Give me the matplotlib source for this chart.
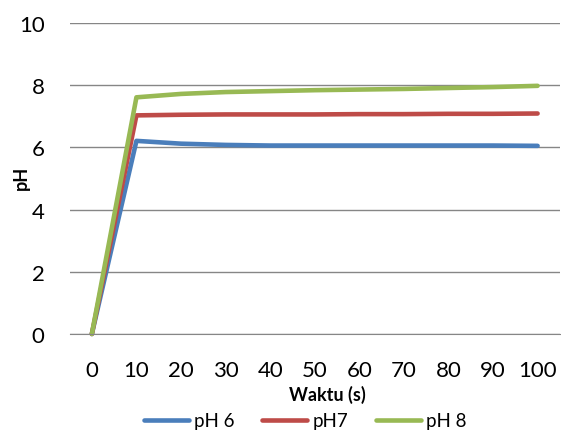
import matplotlib
matplotlib.use("Agg")
import matplotlib.pyplot as plt

plt.rcParams['font.family'] = ['Lato', 'DejaVu Sans']

waktu = [0, 10, 20, 30, 40, 50, 60, 70, 80, 90, 100]
ph6 = [0, 6.21, 6.12, 6.08, 6.06, 6.06, 6.06, 6.06, 6.06, 6.06, 6.05]
ph7 = [0, 7.03, 7.05, 7.06, 7.06, 7.06, 7.07, 7.07, 7.08, 7.08, 7.09]
ph8 = [0, 7.61, 7.72, 7.78, 7.81, 7.84, 7.86, 7.88, 7.91, 7.94, 7.98]
labels = ['pH 6', 'pH7', 'pH 8']
colors = ['#4a7ebb', '#be4b48', '#98b954']

fig = plt.figure(figsize=(5.61, 4.35), dpi=100)
ax = fig.add_axes([0.124, 0.2299, 0.874, 0.7149])

for ys, lab, c in zip([ph6, ph7, ph8], labels, colors):
    ax.plot(waktu, ys, color=c, lw=3.3, label=lab, solid_capstyle='round',
            solid_joinstyle='round', clip_on=False)

ax.set_xlim(-5, 105)
ax.set_ylim(0, 10)
ax.set_xticks(waktu)
ax.set_yticks([0, 2, 4, 6, 8, 10])
ax.grid(axis='y', color='#868686', lw=1)
ax.set_axisbelow(True)
for s in ['top', 'right', 'left']:
    ax.spines[s].set_visible(False)
ax.spines['bottom'].set_color('#868686')
ax.tick_params(length=0, labelsize=16, colors='black')
ax.tick_params(axis='x', pad=19)
ax.tick_params(axis='y', pad=18)

fig.text(327 / 561, 1 - 395 / 435, 'Waktu (s)', fontsize=13, fontweight='bold',
         ha='center', va='center')
fig.text(21 / 561, 1 - 178 / 435, 'pH', fontsize=13, fontweight='bold',
         ha='center', va='center', rotation=90)

fig.legend(loc='center', bbox_to_anchor=(0.544, 1 - 422 / 435), ncol=3, frameon=False,
           fontsize=13.5, handlelength=2.4, columnspacing=1.5, handletextpad=0.25)

fig.savefig('out.png', dpi=100)
